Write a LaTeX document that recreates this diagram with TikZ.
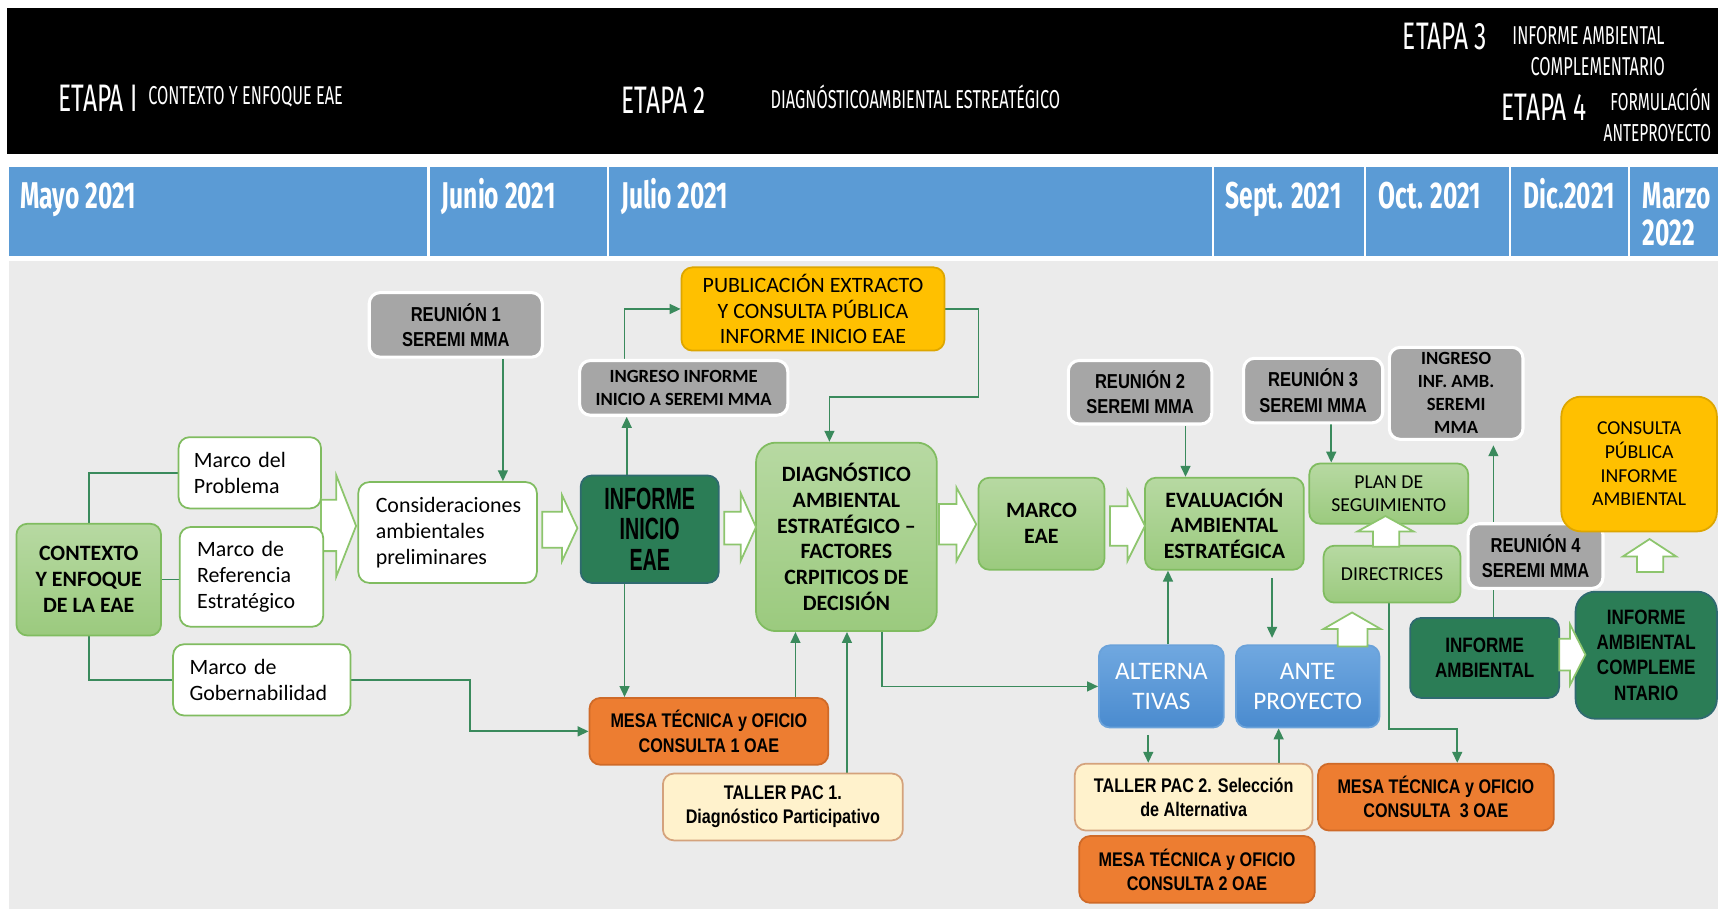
\documentclass[tikz,border=0pt]{standalone}
\usepackage{fontspec}
\setmainfont{Carlito}
\newfontfamily\nrw[FakeStretch=0.82]{Liberation Sans}
\newfontfamily\nrwr[FakeStretch=0.64]{Liberation Sans}
\newfontfamily\agency[FakeStretch=0.64]{Fira Sans}
\newfontfamily\agencys[FakeStretch=0.63]{Fira Sans}
\newfontfamily\agencym[FakeStretch=0.66]{Fira Sans}
\usetikzlibrary{arrows.meta}
\newcommand\fsz[2]{\fontsize{#1}{#2}\selectfont}
\definecolor{hdrblue}{HTML}{5B9BD5}
\definecolor{areagray}{HTML}{EBEBEB}
\definecolor{lgtop}{HTML}{B7D9A2}
\definecolor{lgbot}{HTML}{9BCA7E}
\definecolor{lgbd}{HTML}{80BC60}
\definecolor{grf}{HTML}{A6A6A6}
\definecolor{dgf}{HTML}{2B7D56}
\definecolor{dgbd}{HTML}{2F6A70}
\definecolor{ylf}{HTML}{FFC000}
\definecolor{ylbd}{HTML}{DDA600}
\definecolor{orf}{HTML}{ED7D31}
\definecolor{orbd}{HTML}{CF6A28}
\definecolor{crf}{HTML}{FFF2CC}
\definecolor{crbd}{HTML}{D4A27C}
\definecolor{bltop}{HTML}{70A8E0}
\definecolor{blbot}{HTML}{4A8BCF}
\definecolor{blbd}{HTML}{6AA2DA}
\definecolor{cn}{HTML}{3A8A5C}
\definecolor{blkbd}{HTML}{8DC56D}
\pgfdeclarelayer{bg}\pgfdeclarelayer{edges}\pgfsetlayers{bg,edges,main}
\newcommand\mybox[7]{\node[#6,minimum width={(#4-#2)*0.5pt},minimum height={(#5-#3)*0.5pt}] (#1) at ({(#2+#4)/2},{(#3+#5)/2}) {#7};}
\newcommand\rblk[7]{\draw[blk] (#1,#4) -- (#2,#4) -- (#2,#6) -- (#3,{(#6+#7)/2}) -- (#2,#7) -- (#2,#5) -- (#1,#5) -- cycle;}
\newcommand\ublk[7]{\draw[blk] (#4,#1) -- (#4,#2) -- (#6,#2) -- ({(#6+#7)/2},#3) -- (#7,#2) -- (#5,#2) -- (#5,#1) -- cycle;}
\begin{document}
\begin{tikzpicture}[x=0.5pt,y=-0.5pt,
 nbase/.style={rounded corners=5pt,inner sep=1pt,align=center,line width=0.8pt},
 lgbox/.style={nbase,draw=lgbd,top color=lgtop,bottom color=lgbot,font=\bfseries\fsz{10}{11.8}},
 lgreg/.style={nbase,draw=lgbd,top color=lgtop,bottom color=lgbot,font=\fsz{9}{10.5}},
 wbox/.style={nbase,draw=lgbd,fill=white,align=left,font=\fsz{10}{11.8}},
 gbox/.style={nbase,draw=white,line width=1.4pt,fill=grf,font=\nrw\bfseries\fsz{9.2}{11.5}},
 gboxc/.style={nbase,draw=white,line width=1.4pt,fill=grf,font=\bfseries\fsz{8.5}{10.5}},
 dgbox/.style={nbase,draw=dgbd,fill=dgf,font=\nrw\bfseries\fsz{9.5}{11.5}},
 ylbox/.style={nbase,draw=ylbd,fill=ylf,font=\fsz{10}{11.8}},
 orbox/.style={nbase,draw=orbd,fill=orf,font=\nrw\bfseries\fsz{9}{11}},
 crbox/.style={nbase,draw=crbd,fill=crf,font=\nrw\bfseries\fsz{9}{11}},
 blbox/.style={nbase,draw=blbd,top color=bltop,bottom color=blbot,text=white,font=\fsz{11.5}{14}},
 conn/.style={draw=cn,line width=0.8pt,-{Triangle[length=5pt,width=4.5pt]}},
 plainline/.style={draw=cn,line width=0.8pt},
 blk/.style={draw=blkbd,fill=white,line width=0.8pt},
 hdr/.style={text=white,inner sep=0pt},
 ebig/.style={hdr,font=\agency\fsz{17.5}{17.5},anchor=base west},
 esmall/.style={hdr,font=\agencys\fsz{11.8}{11.8}},
 esmaller/.style={hdr,font=\agencys\fsz{11.2}{11.2}},
 mon/.style={hdr,font=\agencym\bfseries\fsz{17}{17},anchor=base west},
]
\useasboundingbox (0,0) rectangle (1568,830);
\begin{pgfonlayer}{bg}
\fill[black] (6,7) rectangle (1568,141);
\fill[hdrblue] (8,152) rectangle (1568,234);
\foreach \xx in {391,555,1107,1246,1378,1487} \draw[white,line width=1pt] (\xx,152) -- (\xx,234);
\fill[areagray] (8,238) rectangle (1568,830);
\end{pgfonlayer}
% header texts
\node[ebig] (e1) at (53,102) {ETAPA I};
\node[esmall,anchor=base west] (e1t) at (135,95) {CONTEXTO Y ENFOQUE EAE};
\node[ebig] (e2) at (567,104) {ETAPA 2};
\node[esmall,anchor=base west] (e2t) at (703,99) {DIAGNÓSTICOAMBIENTAL ESTREATÉGICO};
\node[ebig] (e3) at (1280,45) {ETAPA 3};
\node[esmall,anchor=base west] (e3t) at (1380,41) {INFORME AMBIENTAL};
\node[esmall,anchor=base east] (e3u) at (1520,69) {COMPLEMENTARIO};
\node[ebig] (e4) at (1370,110) {ETAPA 4};
\node[esmaller,anchor=base east] (e4t) at (1562,101) {FORMULACIÓN};
\node[esmaller,anchor=base east] (e4u) at (1562,129) {ANTEPROYECTO};
% months
\node[mon] (m05) at (18,190) {Mayo 2021};
\node[mon] (m06) at (403,190) {Junio 2021};
\node[mon] (m07) at (567,190) {Julio 2021};
\node[mon] (m09) at (1118,190) {Sept. 2021};
\node[mon] (m10) at (1258,190) {Oct. 2021};
\node[mon] (m12) at (1390,190) {Dic.2021};
\node[mon] (m03a) at (1499,190) {Marzo};
\node[mon] (m03b) at (1499,224) {2022};
% block arrows behind
\rblk{293}{307}{325}{456}{503}{434}{526}
% nodes
\mybox{ctx}{15}{478}{147}{580}{lgbox}{CONTEXTO\\Y ENFOQUE\\DE LA EAE}
\mybox{mp}{163}{399}{293}{464}{wbox,text width=51pt}{Marco del\\Problema}
\mybox{mr}{164}{481}{295}{572}{wbox,text width=49.5pt}{Marco de\\Referencia\\Estratégico}
\mybox{mg}{158}{588}{320}{653}{wbox,text width=66pt}{Marco de\\Gobernabilidad}
\mybox{cons}{327}{440}{490}{532}{wbox,text width=65.5pt}{Consideraciones\\ambientales\\preliminares}
\mybox{r1}{337}{267}{495}{326}{gbox}{REUNIÓN 1\\SEREMI MMA}
\mybox{ii}{530}{434}{656}{532}{dgbox,font=\nrwr\bfseries\fsz{14}{14}}{INFORME\\INICIO\\EAE}
\mybox{ing}{529}{329}{719}{379}{gboxc}{INGRESO INFORME\\INICIO A SEREMI MMA}
\mybox{pub}{622}{244}{862}{320}{ylbox}{PUBLICACIÓN EXTRACTO\\Y CONSULTA PÚBLICA\\INFORME INICIO EAE}
\mybox{diag}{690}{404}{855}{576}{lgbox,rounded corners=9pt}{DIAGNÓSTICO\\AMBIENTAL\\ESTRATÉGICO –\\FACTORES\\CRPITICOS DE\\DECISIÓN}
\mybox{m1}{538}{637}{756}{698}{orbox}{MESA TÉCNICA y OFICIO\\CONSULTA 1 OAE}
\mybox{t1}{605}{706}{824}{767}{crbox}{TALLER PAC 1.\\Diagnóstico Participativo}
\mybox{meae}{893}{436}{1008}{520}{lgbox}{MARCO\\EAE}
\mybox{r2}{975}{329}{1106}{387}{gbox}{REUNIÓN 2\\SEREMI MMA}
\mybox{eval}{1045}{436}{1190}{520}{lgbox}{EVALUACIÓN\\AMBIENTAL\\ESTRATÉGICA}
\mybox{r3}{1135}{327}{1262}{386}{gbox}{REUNIÓN 3\\SEREMI MMA}
\mybox{ing2}{1268}{317}{1390}{401}{gboxc}{INGRESO\\INF. AMB.\\SEREMI\\MMA}
\mybox{plan}{1195}{423}{1340}{478}{lgreg}{PLAN DE\\SEGUIMIENTO}
\mybox{dir}{1208}{498}{1333}{550}{lgreg}{DIRECTRICES}
\mybox{alt}{1003}{589}{1117}{664}{blbox}{ALTERNA\\TIVAS}
\mybox{ante}{1128}{589}{1259}{664}{blbox}{ANTE\\PROYECTO}
\mybox{t2}{981}{697}{1198}{758}{crbox}{TALLER PAC 2. Selección\\de Alternativa}
\mybox{m2}{985}{763}{1200}{824}{orbox}{MESA TÉCNICA y OFICIO\\CONSULTA 2 OAE}
\mybox{m3}{1203}{697}{1418}{758}{orbox}{MESA TÉCNICA y OFICIO\\CONSULTA\ \ 3 OAE}
\mybox{r4}{1340}{478}{1463}{537}{gbox}{REUNIÓN 4\\SEREMI MMA}
\mybox{cp}{1425}{362}{1567}{485}{ylbox,rounded corners=9pt,font=\fsz{9}{10.8}}{CONSULTA\\PÚBLICA\\INFORME\\AMBIENTAL}
\mybox{ia}{1287}{564}{1423}{637}{dgbox}{INFORME\\AMBIENTAL}
\mybox{iac}{1438}{540}{1567}{656}{dgbox,rounded corners=9pt}{INFORME\\AMBIENTAL\\COMPLEME\\NTARIO}
% block arrows
\rblk{495}{513}{527}{467}{500}{452}{512}
\rblk{661}{676}{690}{467}{497}{450}{512}
\rblk{857}{873}{891}{460}{497}{445}{512}
\rblk{1013}{1029}{1045}{462}{498}{448}{512}
\rblk{1423}{1433}{1447}{583}{612}{570}{625}
\ublk{590}{574}{559}{1221}{1248}{1208}{1260}
\ublk{499}{485}{471}{1253}{1277}{1239}{1290}
\ublk{522}{508}{492}{1494}{1518}{1481}{1530}
% connector coordinates
\coordinate (c429) at (429,0);
\coordinate (c459) at (459,0);
\coordinate (c570) at (570,0);
\coordinate (c572) at (572,0);
\coordinate (c726) at (726,0);
\coordinate (c773) at (773,0);
\coordinate (c805) at (805,0);
\coordinate (c1048) at (1048,0);
\coordinate (c1066) at (1066,0);
\coordinate (c1082) at (1082,0);
\coordinate (c1161) at (1161,0);
\coordinate (c1167) at (1167,0);
\coordinate (c1215) at (1215,0);
\coordinate (c1363) at (1363,0);
\coordinate (k1) at (893,362);
\coordinate (k2) at (757,362);
\coordinate (k3) at (1268,665);
\coordinate (k4) at (1330,665);
\begin{pgfonlayer}{edges}
\draw[plainline] (ctx.north) |- (mp.west);
\draw[plainline] (ctx.east) -- (ctx.east -| mr.west);
\draw[plainline] (ctx.south) |- (mg.west);
\draw[conn] (mg.east) -- (mg.east -| c429) |- (m1.west);
\draw[conn] (r1.south -| c459) -- (cons.north -| c459);
\draw[conn] (ii.north -| c572) -- (ing.south -| c572);
\draw[conn] (ing.north -| c570) |- (pub.west);
\draw[conn] (pub.east) -| (k1) -- (k2) -- (diag.north -| k2);
\draw[conn] (ii.south -| c570) -- (m1.north -| c570);
\draw[conn] (m1.north -| c726) -- (diag.south -| c726);
\draw[conn] (t1.north -| c773) -- (diag.south -| c773);
\draw[conn] (diag.south -| c805) |- (alt.west);
\draw[conn] (r2.south -| c1082) -- (eval.north -| c1082);
\draw[conn] (alt.north -| c1066) -- (eval.south -| c1066);
\draw[conn,shorten <=3.5pt,shorten >=3pt] (eval.south -| c1161) -- (ante.north -| c1161);
\draw[conn] (r3.south -| c1215) -- (plan.north -| c1215);
\draw[conn,shorten <=3pt] (alt.south -| c1048) -- (t2.north -| c1048);
\draw[conn] (t2.north -| c1167) -- (ante.south -| c1167);
\draw[conn] (dir.south -| k3) -- (k3) -- (k4) -- (m3.north -| k4);
\draw[conn,shorten >=2pt] (ia.north -| c1363) -- (ing2.south -| c1363);
\end{pgfonlayer}
\end{tikzpicture}
\end{document}
